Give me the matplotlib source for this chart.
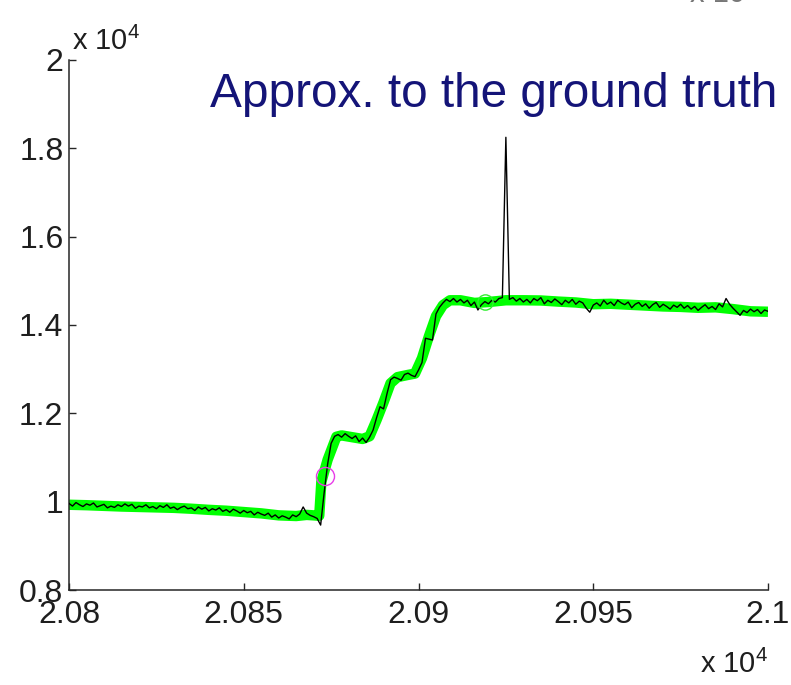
"""Step-edge approximation plot: noisy signal with its piecewise fit."""

import matplotlib

matplotlib.use("Agg")
import matplotlib.pyplot as plt
from matplotlib.ticker import FuncFormatter

plt.rcParams["font.family"] = ["Liberation Sans", "DejaVu Sans"]
plt.rcParams["mathtext.fontset"] = "custom"
plt.rcParams["mathtext.rm"] = "Liberation Sans"

# measured signal, one sample per index 20800..21000
signal_x = list(range(20800, 21001))
signal_y = [
    9960, 9900, 9980, 9930, 9890, 9950, 9920, 9970, 9880, 9910,
    9940, 9860, 9900, 9870, 9930, 9890, 9950, 9900, 9940, 9850,
    9900, 9880, 9930, 9860, 9890, 9840, 9910, 9870, 9930, 9850,
    9880, 9820, 9870, 9900, 9840, 9860, 9800, 9880, 9830, 9870,
    9790, 9840, 9810, 9860, 9780, 9820, 9760, 9830, 9790, 9740,
    9800, 9750, 9780, 9700, 9760, 9720, 9690, 9740, 9650, 9700,
    9630, 9680, 9650, 9610, 9700, 9660, 9720, 9880, 9740, 9690,
    9660, 9620, 9470, 10200, 10850, 11320, 11480, 11520, 11460, 11540,
    11480, 11430, 11490, 11360, 11440, 11340, 11460, 11620, 11900, 12150,
    12100, 12450, 12760, 12820, 12790, 12750, 12880, 12910, 12860, 12830,
    12980, 13150, 13700, 13680, 13660, 14250, 14400, 14500, 14580, 14530,
    14600, 14520, 14580, 14500, 14560, 14440, 14520, 14340, 14460, 14530,
    14480, 14560, 14520, 14600, 14620, 18250, 14580, 14620, 14540, 14600,
    14520, 14580, 14500, 14600, 14550, 14620, 14480, 14560, 14510, 14590,
    14530, 14460, 14560, 14500, 14580, 14470, 14540, 14500, 14380, 14290,
    14450, 14500, 14430, 14560, 14470, 14520, 14440, 14560, 14500, 14460,
    14520, 14390, 14470, 14510, 14420, 14480, 14380, 14460, 14510, 14400,
    14470, 14420, 14360, 14450, 14400, 14470, 14380, 14440, 14360, 14420,
    14330, 14400, 14460, 14370, 14420, 14350, 14480, 14410, 14600, 14470,
    14380, 14300, 14220, 14330, 14280, 14360, 14300, 14350, 14260, 14340,
    14310,
]

# approximation (thick green curve)
approx_x = [
    20800, 20805, 20810, 20815, 20820, 20825, 20830, 20835, 20840, 20845,
    20850, 20855, 20860, 20865, 20868, 20870, 20871.6, 20872.2, 20874,
    20876.5, 20878, 20881, 20884, 20886, 20888, 20890, 20892, 20894,
    20897, 20899, 20901, 20903, 20905, 20907, 20909, 20912, 20916, 20920,
    20925, 20930, 20935, 20940, 20945, 20950, 20955, 20960, 20965, 20970,
    20975, 20980, 20985, 20990, 20995, 21000,
]
approx_y = [
    9930, 9920, 9905, 9890, 9880, 9870, 9860, 9840, 9815, 9795,
    9765, 9735, 9690, 9675, 9700, 9690, 9680, 10450, 10950,
    11470, 11500, 11460, 11420, 11480, 11850, 12250, 12680, 12820,
    12870, 12900, 13250, 13750, 14200, 14450, 14560, 14560, 14500, 14520,
    14560, 14560, 14555, 14530, 14510, 14470, 14480, 14460, 14440, 14420,
    14410, 14390, 14400, 14360, 14310, 14300,
]

# highlighted points
start_pt = (20873.2, 10580)
end_pt = (20919.0, 14530)

x_ticks = [20800, 20850, 20900, 20950, 21000]
y_ticks = [8000, 10000, 12000, 14000, 16000, 18000, 20000]

fig = plt.figure(figsize=(7.91, 6.85), dpi=100)
ax = fig.add_axes([69 / 791, 95 / 685, 699 / 791, 530 / 685])

ax.plot(approx_x, approx_y, color="#00ff00", lw=7.5, solid_capstyle="butt", zorder=2)
ax.plot(signal_x, signal_y, color="black", lw=1.0, zorder=3)
ax.plot(*start_pt, "o", ms=13, mfc="none", mec="#e83ce8", mew=1.0, zorder=4)
ax.plot(*end_pt, "o", ms=11, mfc="none", mec="#33ee33", mew=1.0, zorder=4)

ax.set_xlim(20800, 21000)
ax.set_ylim(8000, 20000)
ax.set_xticks(x_ticks)
ax.set_yticks(y_ticks)
fmt = FuncFormatter(lambda v, _: f"{v / 1e4:g}")
ax.xaxis.set_major_formatter(fmt)
ax.yaxis.set_major_formatter(fmt)

for side in ("top", "right"):
    ax.spines[side].set_visible(False)
for side in ("left", "bottom"):
    ax.spines[side].set_color("#262626")
    ax.spines[side].set_linewidth(1.1)
ax.tick_params(direction="in", length=5, width=1.0, color="#262626",
               labelsize=23, labelcolor="#1e1e1e")
ax.tick_params(axis="x", pad=7)
ax.tick_params(axis="y", pad=4)

# MATLAB style exponent labels
fig.text(72 / 791, 1 - 50 / 685, r"x 10$^{4}$", fontsize=21, color="#1e1e1e",
         ha="left", va="baseline")
fig.text(768 / 791, 1 - 673 / 685, r"x 10$^{4}$", fontsize=21, color="#1e1e1e",
         ha="right", va="baseline")

fig.text(210 / 791, 1 - 107 / 685, "Approx. to the ground truth", fontsize=34.4,
         color="#141478", ha="left", va="baseline")

# fragment of a neighbouring panel, cut off at the top edge
fig.text(690 / 791, 1 - 1.5 / 685, "x 10", fontsize=21, color="#777777",
         ha="left", va="baseline")

fig.savefig("out.png", dpi=100)
